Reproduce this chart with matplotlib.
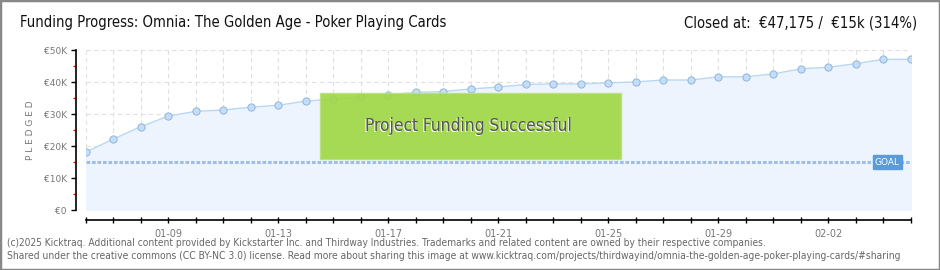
import matplotlib
matplotlib.use("Agg")
from matplotlib import pyplot as plt
from matplotlib.patches import Rectangle
from matplotlib import font_manager
from matplotlib.font_manager import FontProperties

dates = ["01-06", "01-07", "01-08", "01-09", "01-10", "01-11", "01-12", "01-13",
         "01-14", "01-15", "01-16", "01-17", "01-18", "01-19", "01-20", "01-21",
         "01-22", "01-23", "01-24", "01-25", "01-26", "01-27", "01-28", "01-29",
         "01-30", "01-31", "02-01", "02-02", "02-03", "02-04", "02-05"]
pledged = [18100, 22200, 26100, 29400, 30900, 31300, 32200, 32800, 34100, 34700,
           35500, 36100, 36800, 37100, 37900, 38500, 39300, 39500, 39500, 39800,
           40100, 40700, 40700, 41700, 41700, 42600, 44200, 44700, 45800, 47175,
           47175]
goal = 15000
ytick_vals = [0, 10000, 20000, 30000, 40000, 50000]
ytick_labels = ["€0", "€10K", "€20K", "€30K", "€40K", "€50K"]
label_every = 4
label_start = 3

# look for a narrow font file, otherwise plain DejaVu Sans
narrow_path = None
for f in font_manager.fontManager.ttflist:
    n = f.fname.lower()
    if ("condensed" in n or "narrow" in n) and "bold" not in n and "oblique" not in n \
            and "italic" not in n and "light" not in n and "mono" not in n and "serif" not in n.replace("sans", ""):
        narrow_path = f.fname
        break
narrow = FontProperties(fname=narrow_path) if narrow_path else FontProperties(family="DejaVu Sans")

W, H = 940, 270
fig = plt.figure(figsize=(W / 100, H / 100), dpi=100)
fig.patch.set_facecolor("white")

ax = fig.add_axes([85.7 / W, 60 / H, 825 / W, 159.7 / H])
x = list(range(len(dates)))

ax.fill_between(x, pledged, 0, color="#edf4fd", zorder=1)
ax.plot(x, pledged, color="#b9d8f6", lw=1, zorder=3)
ax.plot(x, pledged, ls="none", marker="o", ms=5.2, mfc="#c3defa", mec="#94b4d4",
        mew=0.7, zorder=4)
ax.axhline(goal, color="#9cc0e6", lw=2.2, ls=(0, (1.2, 0.6)), zorder=2)

ax.set_xlim(0, len(dates) - 1)
ax.set_ylim(0, 50000)

# grid
for xi in x:
    ax.axvline(xi, color="#e0e0e0", lw=0.8, ls=(0, (4, 3)), zorder=0.5)
for yv in ytick_vals:
    ax.axhline(yv, color="#e0e0e0", lw=0.8, ls=(0, (4, 3)), zorder=0.5)

for s in ["top", "right"]:
    ax.spines[s].set_visible(False)
ax.spines["left"].set_position(("outward", 7))
ax.spines["bottom"].set_position(("outward", 7.5))
ax.spines["left"].set_linewidth(1.2)
ax.spines["bottom"].set_linewidth(1.2)

ax.set_yticks(ytick_vals)
ax.set_yticklabels(ytick_labels, fontsize=6.5, color="#777777")
ax.set_yticks([5000, 15000, 25000, 35000, 45000], minor=True)
ax.tick_params(axis="y", which="major", length=3.5, width=1, pad=3)
ax.tick_params(axis="y", which="minor", length=2.5, width=1, color="red")

ax.set_xticks(x)
ax.set_xticklabels([d if (i - label_start) % label_every == 0 else "" for i, d in enumerate(dates)],
                   fontsize=7, color="#777777")
ax.tick_params(axis="x", which="major", length=4, width=1, direction="inout", pad=4)

ax.set_ylabel("P L E D G E D", fontsize=6.5, color="#777777", labelpad=6)

# goal tag
ax.text(29.15, goal, "GOAL", fontsize=6.5, color="white", ha="center", va="center",
        zorder=6, bbox=dict(boxstyle="square,pad=0.25", fc="#5b9bd8", ec="#5b9bd8"))

# success box (semi transparent, points show through)
fig.patches.append(Rectangle((320 / W, (H - 158.5) / H), 301 / W, 66 / H,
                             transform=fig.transFigure, fc="#9fd843", ec="#b8e27a",
                             lw=1, alpha=0.9, zorder=5))
shadow = fig.text(468 / W - 1 / W, (H - 126) / H - 1 / H, "Project Funding Successful",
                  fontproperties=narrow, fontsize=13, color="white", ha="center", va="center", zorder=6)
green_txt = fig.text(468 / W, (H - 126) / H, "Project Funding Successful",
                     fontproperties=narrow, fontsize=13, color="#555555", ha="center", va="center", zorder=7)

# titles
title = fig.text(20 / W, (H - 23) / H, "Funding Progress: Omnia: The Golden Age - Poker Playing Cards",
                 fontproperties=narrow, fontsize=12.5, color="#111111", ha="left", va="center")
closed = fig.text(917 / W, (H - 23) / H, "Closed at:  €47,175 /  €15k (314%)",
                  fontproperties=narrow, fontsize=12.5, color="#111111", ha="right", va="center")

# footer
foot1 = fig.text(7 / W, (H - 243) / H,
                 "(c)2025 Kicktraq. Additional content provided by Kickstarter Inc. and Thirdway Industries. "
                 "Trademarks and related content are owned by their respective companies.",
                 fontproperties=narrow, fontsize=6.2, color="#666666", ha="left", va="center")
foot2 = fig.text(7 / W, (H - 256) / H,
                 "Shared under the creative commons (CC BY-NC 3.0) license. Read more about sharing this image at "
                 "www.kicktraq.com/projects/thirdwayind/omnia-the-golden-age-poker-playing-cards/#sharing",
                 fontproperties=narrow, fontsize=6.2, color="#666666", ha="left", va="center")

# scale text sizes so widths match the reference layout
renderer = fig.canvas.get_renderer()
for t, width, cap in [(title, 427, 14), (green_txt, 206, 15), (shadow, 206, 15),
                      (foot1, 763, 7.5), (foot2, 906, 7.5)]:
    w = t.get_window_extent(renderer).width
    t.set_fontsize(min(t.get_fontsize() * width / w, cap))
closed.set_fontsize(title.get_fontsize())

# frame
fig.patches.append(Rectangle((0, 0), 1, 1, transform=fig.transFigure, fill=False,
                             ec="#888888", lw=2.5, zorder=10))

fig.savefig("out.png", dpi=100)
